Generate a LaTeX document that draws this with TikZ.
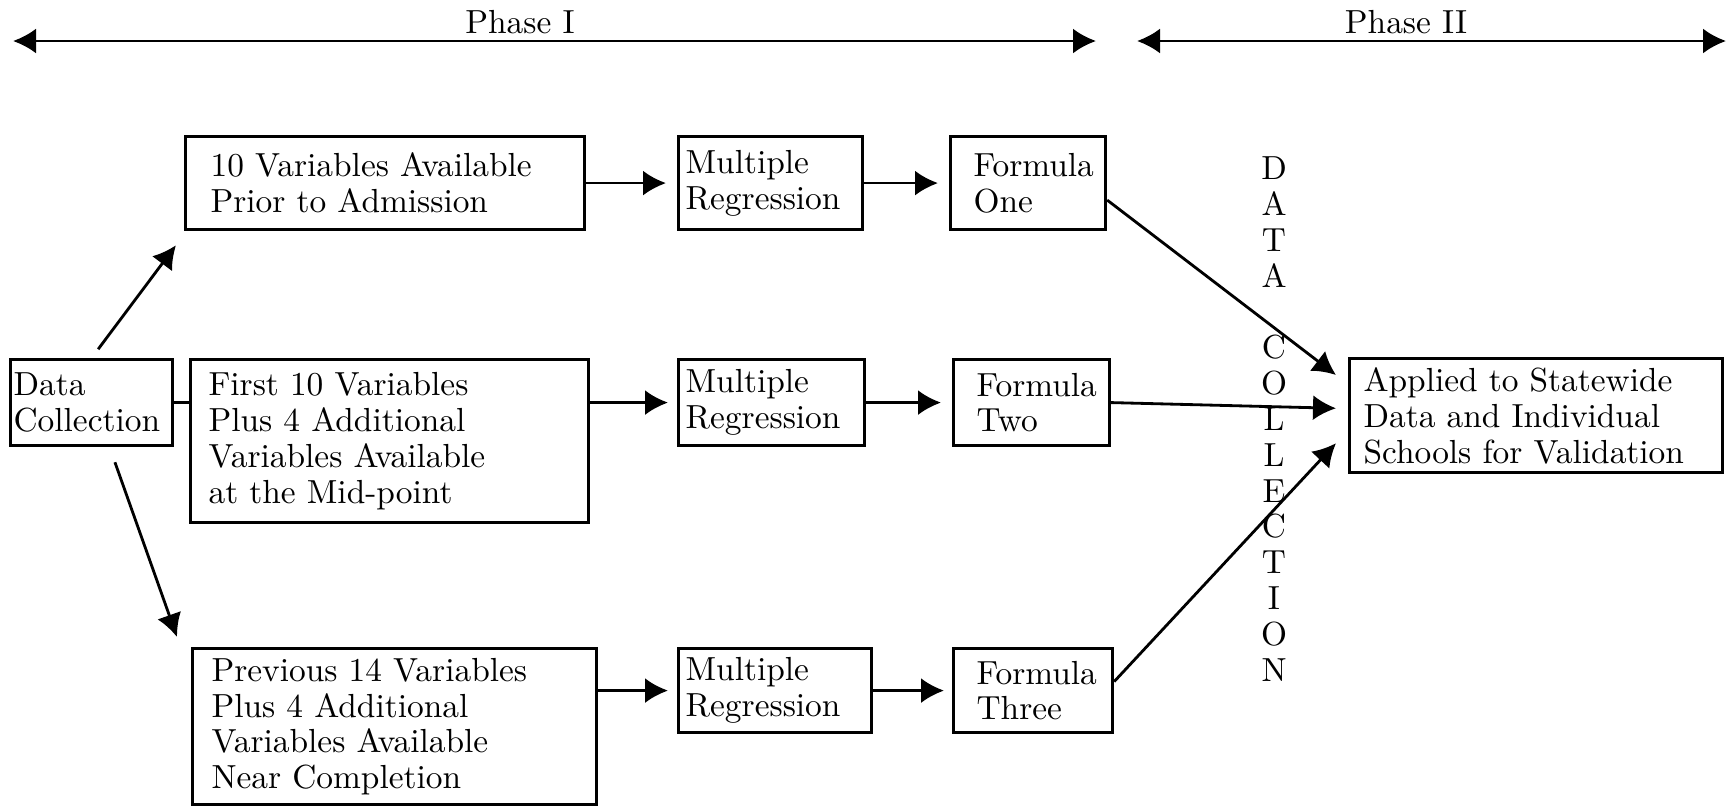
\documentclass[tikz,border=0pt]{standalone}
\usepackage{tikz}
\usetikzlibrary{arrows.meta}

\tikzset{
	box/.style = {draw, line width=0.9pt, rectangle, anchor=north west, align=left, inner ysep=0pt, font=\fontsize{9.5}{10.2}\selectfont},
	txt/.style = {font=\fontsize{9.5}{10.2}\selectfont, inner sep=0pt},
	arr/.style = {line width=0.8pt, -{Latex[length=2.3mm,width=2.5mm]}},
	phase/.style = {line width=0.8pt, {Latex[length=2.3mm,width=2.5mm]}-{Latex[length=2.3mm,width=2.5mm]}},
}

\begin{document}
\begin{tikzpicture}
	\useasboundingbox (0,0) rectangle (17.27,-8.05);
	
	% phases
	\coordinate (p1l) at (0.13,-0.41);
	\coordinate (p1r) at (10.96,-0.41);
	\coordinate (p2l) at (11.37,-0.41);
	\coordinate (p2r) at (17.26,-0.41);
	\draw[phase] (p1l) -- (p1r);
	\draw[phase] (p2l) -- (p2r);
	\node[txt] (phaseone) at (5.20,-0.22) {Phase I};
	\node[txt] (phasetwo) at (14.06,-0.22) {Phase II};
	
	% boxes
	\node[box, minimum width=1.62cm, minimum height=0.86cm, text width=1.56cm, inner xsep=0.03cm] (dc) at (0.09,-3.58) {Data\\Collection};
	
	\node[box, minimum height=0.93cm, text width=3.49cm, inner xsep=0.25cm] (prior) at (1.84,-1.35) {10 Variables Available\\Prior to Admission};
	\node[box, minimum height=1.63cm, text width=3.62cm, inner xsep=0.18cm] (mid) at (1.89,-3.58) {First 10 Variables\\Plus 4 Additional\\Variables Available\\at the Mid-point};
	\node[box, minimum height=1.56cm, text width=3.66cm, inner xsep=0.19cm] (near) at (1.91,-6.47) {Previous 14 Variables\\Plus 4 Additional\\Variables Available\\Near Completion};
	
	\node[box, minimum height=0.93cm, text width=1.70cm, inner xsep=0.07cm] (mr1) at (6.77,-1.35) {Multiple\\Regression};
	\node[box, minimum height=0.86cm, text width=1.72cm, inner xsep=0.07cm] (mr2) at (6.77,-3.58) {Multiple\\Regression};
	\node[box, minimum height=0.84cm, text width=1.79cm, inner xsep=0.07cm] (mr3) at (6.77,-6.47) {Multiple\\Regression};
	
	\node[box, minimum height=0.93cm, text width=1.09cm, inner xsep=0.23cm] (f1) at (9.49,-1.35) {Formula\\One};
	\node[box, minimum height=0.86cm, text width=1.10cm, inner xsep=0.23cm] (f2) at (9.52,-3.58) {Formula\\Two};
	\node[box, minimum height=0.84cm, text width=1.13cm, inner xsep=0.23cm] (f3) at (9.52,-6.47) {Formula\\Three};
	
	\node[box, minimum height=1.14cm, text width=3.45cm, inner xsep=0.14cm] (app) at (13.48,-3.57) {Applied to Statewide\\Data and Individual\\Schools for Validation};
	
	\node[txt, align=center] (datacol) at (12.74,-4.19) {D\\A\\T\\A\\[10.2pt]C\\O\\L\\L\\E\\C\\T\\I\\O\\N};
	
	% connectors
	\draw[arr, shorten <=0.11cm] ([xshift=0.0cm]dc.north) -- ([xshift=-0.08cm,yshift=-0.14cm]prior.south west);
	\draw[arr, shorten <=0.16cm] ([xshift=0.18cm]dc.south) -- ([xshift=-0.14cm,yshift=0.1cm]near.north west);
	\draw[line width=0.8pt] (dc.east) -- (dc.east -| mid.west);
	
	\draw[arr, shorten >=0.11cm] (prior.east |- mr1) -- (mr1.west);
	\draw[arr, shorten >=0.09cm] (mid.east |- mr2) -- (mr2.west);
	\draw[arr, shorten >=0.09cm] (near.east |- mr3) -- (mr3.west);
	
	\draw[arr, shorten >=0.11cm] (mr1.east) -- (f1.west);
	\draw[arr, shorten >=0.11cm] (mr2.east) -- (f2.west);
	\draw[arr, shorten >=0.08cm] (mr3.east) -- (f3.west);
	
	\draw[arr] ([yshift=-0.17cm]f1.east) -- ([xshift=-0.12cm,yshift=-0.18cm]app.north west);
	\draw[arr, shorten >=0.12cm] (f2.east) -- ([yshift=0.07cm]app.west);
	\draw[arr] ([yshift=0.09cm]f3.east) -- ([xshift=-0.12cm,yshift=0.31cm]app.south west);
	
\end{tikzpicture}
\end{document}
